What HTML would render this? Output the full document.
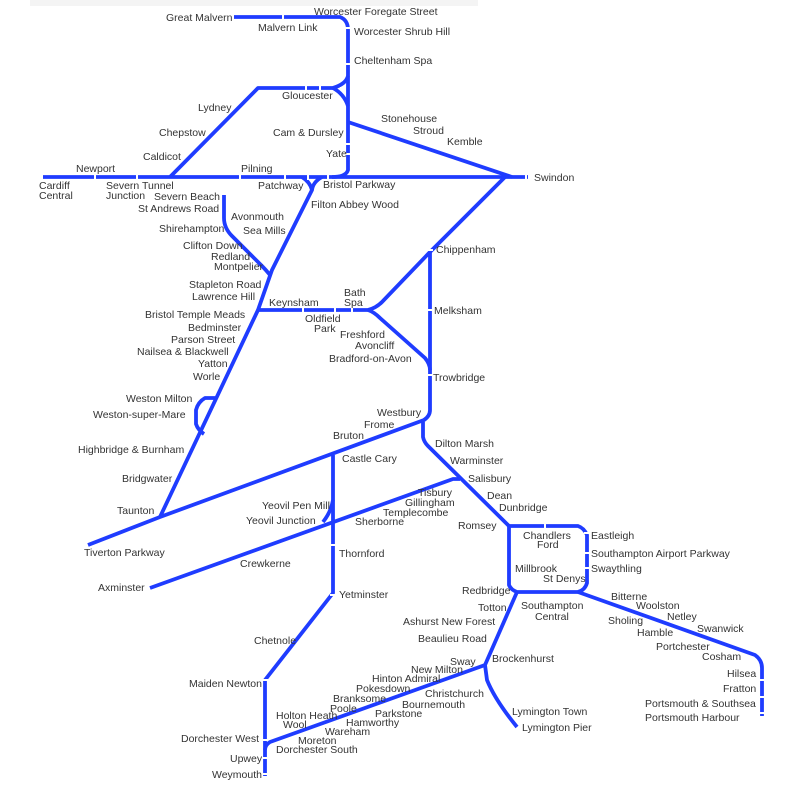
<!DOCTYPE html>
<html><head><meta charset="utf-8"><style>
html,body{margin:0;padding:0;background:#fff;}
svg{display:block}
text{font-family:"Liberation Sans",Arial,sans-serif;font-size:10.5px;fill:#333;}
</style></head><body>
<svg width="800" height="792" viewBox="0 0 800 792" xmlns="http://www.w3.org/2000/svg">
<rect x="30" y="0" width="448" height="6" fill="#f4f4f4"/>
<g fill="none" stroke="#1f3cff" stroke-width="3.8" stroke-linejoin="round" stroke-linecap="butt">
<path d="M233 17 H340 Q348 20 348 30 V170 Q346 177 332 177"/>
<path d="M170 177 L258 88 H333"/>
<path d="M333 88 Q346 84 348 76"/>
<path d="M333 88 Q344 94 348 106"/>
<path d="M42 177 H528"/>
<path d="M348 122 L512 177"/>
<path d="M302 177 Q310 182 312 190"/>
<path d="M322 177 Q313 182 312 190 L272 270 L258 310 L160 517"/>
<path d="M224 195 V218 Q224 228 232 236 L262 266 Q266 270 270 275"/>
<path d="M215 398 H205 Q198 402 196 410 V424 Q198 430 204 434"/>
<path d="M258 310 H368 Q376 308 382 302 L430 252 V410 Q430 416 424 420"/>
<path d="M368 310 Q374 312 380 318 L425 358 Q430 364 430 370"/>
<path d="M430 252 L505 177"/>
<path d="M88 545 L160 517 L424 420"/>
<path d="M423 420 V437 Q424 442 428 446 L509 526"/>
<path d="M333 455 V593 L265 680 V776"/>
<path d="M333 500 Q331 512 323 522"/>
<path d="M460 479 H453 L150 588"/>
<path d="M509 526 H578 Q584 528 587 535 V583 Q585 590 578 592 H517 Q511 590 509 585 V526"/>
<path d="M578 592 L755 655 Q762 660 762 668 V716"/>
<path d="M517 592 L485 665 L487 680 Q495 700 517 727"/>
<path d="M485 665 L270 742 Q265 745 265 750"/>
</g>
<g stroke="#fff" stroke-width="2">
<path d="M233 14v6M283 14v6M345 28h6M345 64h6M345 144h6M345 154h6M42 174v6M95 174v6M137 174v6M285 174v6M308 174v6M328 174v6M526 174v6M547 174v6M240 174v6"/>
<path d="M345 88h-5M320 85v6M306 85v6"/>
<path d="M375 128l2 -5M405 138l2 -5M440 150l2 -5"/>
<path d="M427 250h6M427 310h6M427 375h6M303 307v6M335 307v6M352 307v6"/>
<path d="M330 545h6M330 595h6M262 680h6M262 740h6M262 758h6M262 774h6"/>
<path d="M584 533h6M584 553h6M584 568h6M545 523v6"/>
<path d="M759 680h6M759 697h6M759 713h6"/>
</g>
<g>
<text x="166" y="21">Great Malvern</text>
<text x="258" y="31">Malvern Link</text>
<text x="314" y="15">Worcester Foregate Street</text>
<text x="354" y="35">Worcester Shrub Hill</text>
<text x="354" y="64">Cheltenham Spa</text>
<text x="282" y="99">Gloucester</text>
<text x="198" y="111">Lydney</text>
<text x="159" y="136">Chepstow</text>
<text x="143" y="160">Caldicot</text>
<text x="273" y="136">Cam &amp; Dursley</text>
<text x="326" y="157">Yate</text>
<text x="381" y="122">Stonehouse</text>
<text x="413" y="134">Stroud</text>
<text x="447" y="145">Kemble</text>
<text x="534" y="181">Swindon</text>
<text x="76" y="172">Newport</text>
<text x="39" y="189">Cardiff</text>
<text x="39" y="199">Central</text>
<text x="106" y="189">Severn Tunnel</text>
<text x="106" y="199">Junction</text>
<text x="241" y="172">Pilning</text>
<text x="258" y="189">Patchway</text>
<text x="323" y="188">Bristol Parkway</text>
<text x="311" y="208">Filton Abbey Wood</text>
<text x="154" y="200">Severn Beach</text>
<text x="138" y="212">St Andrews Road</text>
<text x="231" y="220">Avonmouth</text>
<text x="159" y="232">Shirehampton</text>
<text x="243" y="234">Sea Mills</text>
<text x="183" y="249">Clifton Down</text>
<text x="211" y="260">Redland</text>
<text x="214" y="270">Montpelier</text>
<text x="189" y="288">Stapleton Road</text>
<text x="192" y="300">Lawrence Hill</text>
<text x="269" y="306">Keynsham</text>
<text x="344" y="296">Bath</text>
<text x="344" y="306">Spa</text>
<text x="305" y="322">Oldfield</text>
<text x="314" y="332">Park</text>
<text x="340" y="338">Freshford</text>
<text x="355" y="349">Avoncliff</text>
<text x="329" y="362">Bradford-on-Avon</text>
<text x="145" y="318">Bristol Temple Meads</text>
<text x="188" y="331">Bedminster</text>
<text x="171" y="343">Parson Street</text>
<text x="137" y="355">Nailsea &amp; Blackwell</text>
<text x="198" y="367">Yatton</text>
<text x="193" y="380">Worle</text>
<text x="126" y="402">Weston Milton</text>
<text x="93" y="418">Weston-super-Mare</text>
<text x="78" y="453">Highbridge &amp; Burnham</text>
<text x="122" y="482">Bridgwater</text>
<text x="117" y="514">Taunton</text>
<text x="84" y="556">Tiverton Parkway</text>
<text x="436" y="253">Chippenham</text>
<text x="434" y="314">Melksham</text>
<text x="433" y="381">Trowbridge</text>
<text x="377" y="416">Westbury</text>
<text x="364" y="428">Frome</text>
<text x="333" y="439">Bruton</text>
<text x="342" y="462">Castle Cary</text>
<text x="435" y="447">Dilton Marsh</text>
<text x="450" y="464">Warminster</text>
<text x="468" y="482">Salisbury</text>
<text x="487" y="499">Dean</text>
<text x="499" y="511">Dunbridge</text>
<text x="458" y="529">Romsey</text>
<text x="418" y="496">Tisbury</text>
<text x="405" y="506">Gillingham</text>
<text x="383" y="516">Templecombe</text>
<text x="355" y="525">Sherborne</text>
<text x="262" y="509">Yeovil Pen Mill</text>
<text x="246" y="524">Yeovil Junction</text>
<text x="339" y="557">Thornford</text>
<text x="240" y="567">Crewkerne</text>
<text x="98" y="591">Axminster</text>
<text x="339" y="598">Yetminster</text>
<text x="254" y="644">Chetnole</text>
<text x="189" y="687">Maiden Newton</text>
<text x="181" y="742">Dorchester West</text>
<text x="230" y="762">Upwey</text>
<text x="212" y="778">Weymouth</text>
<text x="523" y="539">Chandlers</text>
<text x="537" y="548">Ford</text>
<text x="591" y="539">Eastleigh</text>
<text x="591" y="557">Southampton Airport Parkway</text>
<text x="591" y="572">Swaythling</text>
<text x="515" y="572">Millbrook</text>
<text x="543" y="582">St Denys</text>
<text x="521" y="609">Southampton</text>
<text x="535" y="620">Central</text>
<text x="462" y="594">Redbridge</text>
<text x="478" y="611">Totton</text>
<text x="403" y="625">Ashurst New Forest</text>
<text x="418" y="642">Beaulieu Road</text>
<text x="492" y="662">Brockenhurst</text>
<text x="611" y="600">Bitterne</text>
<text x="636" y="609">Woolston</text>
<text x="667" y="620">Netley</text>
<text x="608" y="624">Sholing</text>
<text x="637" y="636">Hamble</text>
<text x="697" y="632">Swanwick</text>
<text x="656" y="650">Portchester</text>
<text x="702" y="660">Cosham</text>
<text x="727" y="677">Hilsea</text>
<text x="723" y="692">Fratton</text>
<text x="645" y="707">Portsmouth &amp; Southsea</text>
<text x="645" y="721">Portsmouth Harbour</text>
<text x="512" y="715">Lymington Town</text>
<text x="522" y="731">Lymington Pier</text>
<g style="font-size:8.5px">
<text x="450" y="665">Sway</text>
<text x="411" y="673">New Milton</text>
<text x="372" y="682">Hinton Admiral</text>
<text x="425" y="697">Christchurch</text>
<text x="356" y="692">Pokesdown</text>
<text x="402" y="708">Bournemouth</text>
<text x="333" y="702">Branksome</text>
<text x="330" y="712">Poole</text>
<text x="375" y="717">Parkstone</text>
<text x="346" y="726">Hamworthy</text>
<text x="276" y="719">Holton Heath</text>
<text x="283" y="728">Wool</text>
<text x="325" y="735">Wareham</text>
<text x="298" y="744">Moreton</text>
<text x="276" y="753">Dorchester South</text>
</g>
</g>
</svg>
</body></html>
